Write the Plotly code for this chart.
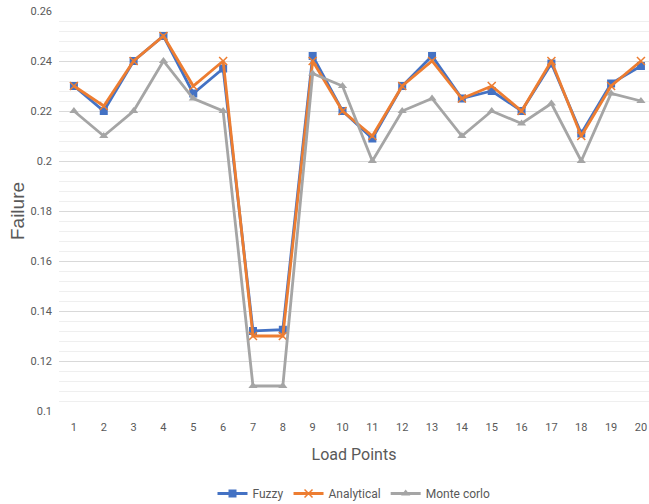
import plotly.graph_objects as go

load_points = list(range(1, 21))
fuzzy = [0.230, 0.220, 0.240, 0.250, 0.227, 0.237, 0.132, 0.1325, 0.242, 0.220,
         0.209, 0.230, 0.242, 0.225, 0.228, 0.220, 0.239, 0.211, 0.231, 0.238]
analytical = [0.230, 0.222, 0.240, 0.250, 0.230, 0.240, 0.130, 0.130, 0.240, 0.220,
              0.210, 0.230, 0.240, 0.225, 0.230, 0.220, 0.240, 0.210, 0.230, 0.240]
monte_corlo = [0.220, 0.210, 0.220, 0.240, 0.225, 0.220, 0.110, 0.110, 0.235, 0.230,
               0.200, 0.220, 0.225, 0.210, 0.220, 0.215, 0.223, 0.200, 0.227, 0.224]
y_ticks = [0.10, 0.12, 0.14, 0.16, 0.18, 0.20, 0.22, 0.24, 0.26]
y_tick_text = ["0.1", "0.12", "0.14", "0.16", "0.18", "0.2", "0.22", "0.24", "0.26"]

fig = go.Figure()
fig.add_trace(go.Scatter(x=load_points, y=fuzzy, name="Fuzzy", mode="lines+markers",
                         line=dict(color="#4472C4", width=2.8),
                         marker=dict(symbol="square", size=8, color="#4472C4")))
fig.add_trace(go.Scatter(x=load_points, y=analytical, name="Analytical", mode="lines+markers",
                         line=dict(color="#ED7D31", width=2.8),
                         marker=dict(symbol="x-thin", size=8, color="#ED7D31",
                                     line=dict(color="#ED7D31", width=1.5))))
fig.add_trace(go.Scatter(x=load_points, y=monte_corlo, name="Monte corlo", mode="lines+markers",
                         line=dict(color="#A5A5A5", width=2.8),
                         marker=dict(symbol="triangle-up", size=8, color="#A5A5A5")))

tick_font = dict(family="Roboto, sans-serif", size=11, color="#595959")
fig.update_layout(
    width=649, height=504,
    margin=dict(l=59, r=0, t=11, b=93, autoexpand=False),
    paper_bgcolor="white", plot_bgcolor="white",
    showlegend=True,
    legend=dict(orientation="h", x=0.5, xanchor="center", y=-0.17, yanchor="top",
                font=dict(family="Roboto, sans-serif", size=12, color="#595959"),
                itemwidth=30, tracegroupgap=0),
    xaxis=dict(range=[0.5, 20.27], tickmode="array", tickvals=load_points,
               ticktext=[str(v) for v in load_points], tickfont=tick_font,
               showgrid=False, zeroline=False, showline=False, ticks="",
               ticklabelstandoff=8, automargin=False,
               title=dict(text="Load Points", standoff=15,
                          font=dict(family="Roboto, sans-serif",
                                    size=16, color="#595959"))),
    yaxis=dict(range=[0.1, 0.26], tickmode="array", tickvals=y_ticks, ticktext=y_tick_text,
               tickfont=tick_font, showgrid=True, gridcolor="#D9D9D9", gridwidth=1,
               zeroline=False, showline=False, ticks="", ticklabelstandoff=6,
               automargin=False,
               minor=dict(tickmode="linear", tick0=0.1, dtick=0.004, showgrid=True,
                          gridcolor="#EFEFEF", gridwidth=1),
               title=dict(text="Failure", standoff=0,
                          font=dict(family="Liberation Sans, Arial, sans-serif",
                                    size=19, color="#595959"))),
)
fig.write_html("out.html", config={"displayModeBar": False},
               post_script="document.body.style.margin='0';document.body.style.overflow='hidden';")
